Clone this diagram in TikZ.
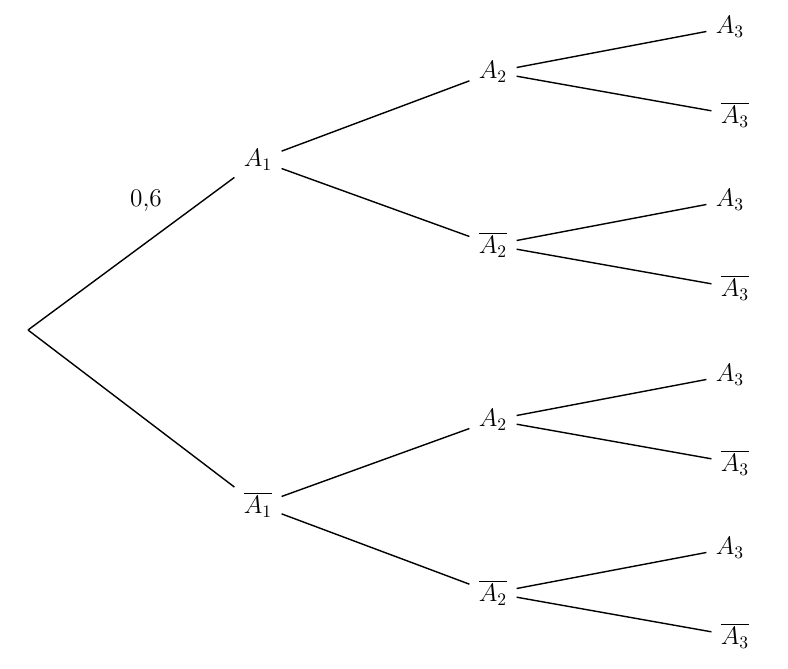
\documentclass[tikz,border=0pt]{standalone}
\usetikzlibrary{positioning}
\tikzset{ev/.style={inner sep=5pt,font=\Large}}
\newcommand{\nonA}[1]{\overline{A_{#1}}}
\begin{document}
\begin{tikzpicture}[x=0.02cm,y=-0.02cm,thick]
				\useasboundingbox (0,0) rectangle (788,669);
				\coordinate (R) at (28,330);
				\node[ev] (a) at (258,160) {$A_1$};
				\node[ev] (b) at (258,505) {$\nonA{1}$};
				\node[ev] (aa) at (493,72) {$A_2$};
				\node[ev] (ab) at (493,245) {$\nonA{2}$};
				\node[ev] (ba) at (493,420) {$A_2$};
				\node[ev] (bb) at (493,593) {$\nonA{2}$};
				\foreach \n/\y in {aa/27,ab/200,ba/375,bb/548}{
					\node[ev] (\n a) at (730,\y) {$A_3$};
					\node[ev] (\n b) at (735,\y+88) {$\nonA{3}$};
					\draw (\n) -- (\n a);
					\draw (\n) -- (\n b);
				}
				\node[font=\Large] (p) at (146,201) {0,6};
				\draw (R) -- (a);
				\draw (R) -- (b);
				\draw (a) -- (aa);
				\draw (a) -- (ab);
				\draw (b) -- (ba);
				\draw (b) -- (bb);
\end{tikzpicture}
\end{document}
